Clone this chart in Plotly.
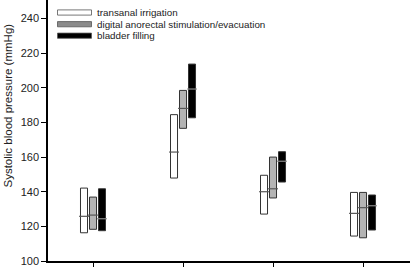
import plotly.graph_objects as go

groups = [1, 2, 3, 4]
series_names = ["transanal irrigation", "digital anorectal stimulation/evacuation", "bladder filling"]

# lower quartile, median, upper quartile per series per group
irrigation_q1 = [116.3, 147.9, 127.1, 114.4]
irrigation_med = [125.8, 162.9, 140.0, 127.5]
irrigation_q3 = [142.1, 184.5, 149.5, 139.6]

digital_q1 = [118.3, 176.6, 136.4, 113.4]
digital_med = [126.5, 188.1, 141.7, 130.8]
digital_q3 = [136.9, 198.5, 160.0, 139.6]

bladder_q1 = [117.5, 182.7, 145.6, 117.9]
bladder_med = [124.4, 199.3, 157.6, 131.9]
bladder_q3 = [141.7, 213.7, 163.1, 138.1]

y_ticks = [100, 120, 140, 160, 180, 200, 220, 240]
y_title = "Systolic blood pressure (mmHg)"

series = [
    (irrigation_q1, irrigation_med, irrigation_q3, "white", "#555555"),
    (digital_q1, digital_med, digital_q3, "#b4b4b4", "#555555"),
    (bladder_q1, bladder_med, bladder_q3, "black", "#8a8a8a"),
]
offsets = [-0.1, 0.0, 0.1]
bar_w = 0.078

fig = go.Figure()
for (q1, med, q3, fill, medc), off, name in zip(series, offsets, series_names):
    fig.add_trace(go.Bar(
        x=groups, y=[b - a for a, b in zip(q1, q3)], base=q1,
        width=bar_w, offset=off - bar_w / 2,
        marker=dict(color=fill, line=dict(color="#333333", width=1)),
        name=name, showlegend=False,
    ))
    fig.add_trace(go.Scatter(
        x=[g + off for g in groups], y=med, mode="markers",
        marker=dict(symbol="line-ew", size=7, line=dict(color=medc, width=1.2)),
        showlegend=False, hoverinfo="skip",
    ))

# manual legend
legend_fills = ["white", "#8c8c8c", "black"]
row_y = [12.5, 24.2, 35.7]  # pixels from top
H = 261.0
W = 362.0
for name, fill, ry in zip(series_names, legend_fills, row_y):
    fig.add_shape(type="rect", xref="paper", yref="paper",
                  x0=(57.5 - 48) / W, x1=(91.5 - 48) / W,
                  y0=1 - (ry + 2.6) / H, y1=1 - (ry - 2.6) / H,
                  fillcolor=fill, line=dict(color="#555555", width=0.8))
    fig.add_annotation(xref="paper", yref="paper", x=(95 - 48) / W, y=1 - ry / H,
                       text=name, showarrow=False, xanchor="left", yanchor="middle",
                       font=dict(family="Arial, Liberation Sans", size=9.8, color="#222222"))

fig.add_annotation(xref="paper", yref="paper", x=(7.5 - 48) / W, y=1 - 106 / H,
                   text=y_title, textangle=-90, showarrow=False,
                   xanchor="center", yanchor="middle",
                   font=dict(family="Arial, Liberation Sans", size=11.5, color="#222222"))

fig.update_layout(
    width=410, height=267,
    margin=dict(l=48, r=0, t=0, b=6),
    plot_bgcolor="white", paper_bgcolor="white",
    barmode="overlay",
    font=dict(family="Arial, Liberation Sans", color="#222222"),
    xaxis=dict(range=[0.5, 4.522], tickvals=groups, ticktext=["", "", "", ""],
               showline=True, linecolor="black", linewidth=1.5,
               ticks="outside", ticklen=5, tickcolor="black", tickwidth=1.2,
               showgrid=False, zeroline=False),
    yaxis=dict(range=[100, 250.7], tickvals=y_ticks,
               showline=True, linecolor="black", linewidth=1.5,
               ticks="outside", ticklen=5, tickcolor="black", tickwidth=1.2,
               showgrid=False, zeroline=False,
               tickfont=dict(size=11)),
)
fig.write_html("out.html", config={"displayModeBar": False},
               post_script="document.body.style.margin='0';document.body.style.overflow='hidden';")
